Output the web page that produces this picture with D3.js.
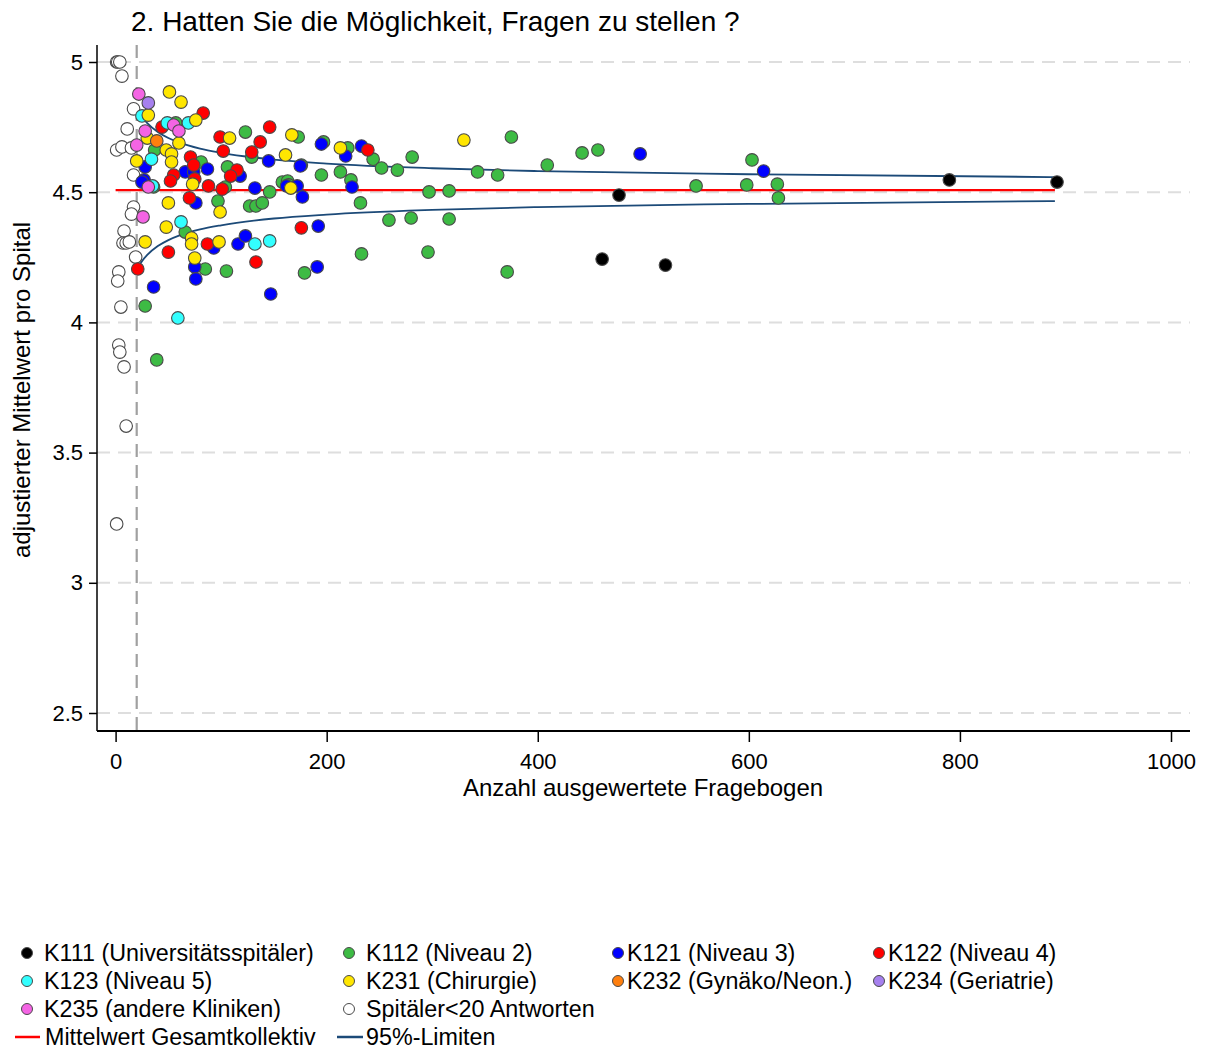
<!DOCTYPE html>
<html>
<head>
<meta charset="utf-8">
<script src="https://cdn.jsdelivr.net/npm/d3@7"></script>
<style>
  html, body { margin: 0; padding: 0; background: #fff; }
  svg { display: block; font-family: "Liberation Sans", Arial, sans-serif; }
</style>
</head>
<body>
<svg id="chart" width="1208" height="1049"></svg>
<script>
// Funnel plot: adjusted hospital mean vs. number of evaluated questionnaires
const title = "2. Hatten Sie die Möglichkeit, Fragen zu stellen ?";
const xTitle = "Anzahl ausgewertete Fragebogen";
const yTitle = "adjustierter Mittelwert pro Spital";
const xTicks = [0, 200, 400, 600, 800, 1000];
const yTicks = [2.5, 3, 3.5, 4, 4.5, 5];
const minAnswers = 20;
const overallMean = 4.508;

// [n, adjusted mean] per hospital group
const k111 = [[461, 4.243], [521, 4.220], [477, 4.489], [790, 4.547], [892, 4.539]];
const k112 = [[123, 4.731], [173, 4.712], [129, 4.635], [106, 4.597], [81, 4.616], [146, 4.501],
  [104, 4.520], [158, 4.539], [163, 4.543], [164, 4.528], [97, 4.466], [127, 4.447], [133, 4.447],
  [139, 4.459], [66, 4.347], [85, 4.205], [105, 4.197], [28, 4.063], [39, 3.856], [37, 4.662],
  [36, 4.520], [57, 4.766], [197, 4.693], [220, 4.670], [244, 4.627], [252, 4.593], [267, 4.585],
  [281, 4.635], [195, 4.566], [213, 4.578], [223, 4.547], [232, 4.459], [259, 4.393], [280, 4.401],
  [297, 4.501], [316, 4.505], [316, 4.397], [375, 4.712], [343, 4.578], [362, 4.566], [409, 4.604],
  [442, 4.651], [457, 4.662], [233, 4.263], [296, 4.270], [179, 4.190], [371, 4.194], [603, 4.624],
  [550, 4.524], [598, 4.528], [627, 4.531], [628, 4.478], [176, 4.604]];
const k121 = [[28, 4.597], [27, 4.547], [66, 4.578], [74, 4.578], [87, 4.589], [145, 4.620],
  [118, 4.562], [132, 4.516], [76, 4.459], [36, 4.136], [93, 4.286], [116, 4.301], [123, 4.332],
  [75, 4.213], [76, 4.167], [147, 4.109], [175, 4.601], [195, 4.685], [218, 4.639], [233, 4.677],
  [172, 4.524], [162, 4.524], [177, 4.482], [224, 4.520], [192, 4.370], [191, 4.213], [497, 4.647],
  [614, 4.581], [25, 4.539]];
const k122 = [[83, 4.804], [146, 4.750], [99, 4.712], [137, 4.693], [44, 4.750], [129, 4.654],
  [102, 4.658], [71, 4.635], [74, 4.604], [115, 4.585], [109, 4.562], [55, 4.566], [52, 4.543],
  [75, 4.551], [88, 4.524], [101, 4.512], [70, 4.478], [133, 4.232], [176, 4.363], [50, 4.270],
  [87, 4.301], [21, 4.205], [239, 4.662]];
const k123 = [[25, 4.793], [49, 4.766], [69, 4.766], [34, 4.627], [62, 4.386], [59, 4.017],
  [132, 4.301], [146, 4.313], [35, 4.524]];
const k231 = [[51, 4.885], [62, 4.846], [31, 4.796], [76, 4.777], [30, 4.708], [60, 4.689],
  [48, 4.662], [53, 4.647], [20, 4.620], [53, 4.616], [108, 4.708], [161, 4.643], [167, 4.720],
  [213, 4.670], [330, 4.700], [73, 4.531], [50, 4.459], [99, 4.424], [48, 4.366], [72, 4.324],
  [72, 4.301], [28, 4.309], [98, 4.309], [75, 4.247], [166, 4.516]];
const k232 = [[39, 4.697]];
const k234 = [[31, 4.843]];
const k235 = [[22, 4.877], [28, 4.735], [55, 4.758], [60, 4.735], [20, 4.681], [31, 4.520], [26, 4.405]];
const small = [[1, 5.0], [2, 5.0], [4, 5.0], [6, 4.946], [17, 4.820], [11, 4.743], [1, 4.662],
  [6, 4.674], [15, 4.670], [17, 4.566], [17, 4.443], [15, 4.416], [8, 4.351], [7, 4.305],
  [10, 4.305], [13, 4.309], [19, 4.251], [3, 4.194], [2, 4.159], [5, 4.059], [3, 3.913],
  [4, 3.886], [8, 3.829], [10, 3.602], [1, 3.226]];

// 95% control limits read along the funnel
const limitN = [20, 25, 30, 40, 50, 60, 80, 100, 150, 200, 300, 400, 600, 890];
const limitUpper = [4.822, 4.789, 4.765, 4.731, 4.708, 4.691, 4.667, 4.651, 4.625, 4.610, 4.592, 4.581, 4.569, 4.558];
const limitLower = [4.202, 4.235, 4.259, 4.293, 4.316, 4.333, 4.357, 4.373, 4.399, 4.414, 4.432, 4.443, 4.455, 4.466];
const meanRange = [0, 890];

const groups = [
  { name: "Spitäler<20 Antworten", data: small, color: "#ffffff" },
  { name: "K112 (Niveau 2)", data: k112, color: "#3dbb44" },
  { name: "K111 (Universitätsspitäler)", data: k111, color: "#000000" },
  { name: "K121 (Niveau 3)", data: k121, color: "#0000ff" },
  { name: "K122 (Niveau 4)", data: k122, color: "#ff0000" },
  { name: "K123 (Niveau 5)", data: k123, color: "#33ffff" },
  { name: "K231 (Chirurgie)", data: k231, color: "#ffe600" },
  { name: "K232 (Gynäko/Neon.)", data: k232, color: "#ff7f0e" },
  { name: "K234 (Geriatrie)", data: k234, color: "#a680ee" },
  { name: "K235 (andere Kliniken)", data: k235, color: "#f464e4" }
];
const colorOf = Object.fromEntries(groups.map(g => [g.name, g.color]));

const svg = d3.select("#chart");
const plot = { left: 97, right: 1190, top: 45, bottom: 731 };
const fontFamily = "'Liberation Sans', Arial, sans-serif";

const x = d3.scaleLinear().domain([0, 1000]).range([115.6, 1171]);
const y = d3.scaleLinear().domain([2.5, 5]).range([713, 62]);

// horizontal dashed grid
svg.append("g").selectAll("line").data(yTicks).join("line")
  .attr("x1", plot.left).attr("x2", plot.right)
  .attr("y1", d => y(d)).attr("y2", d => y(d))
  .attr("stroke", "#dedede").attr("stroke-width", 2)
  .attr("stroke-dasharray", "13,8");

// minimum-answers reference line
svg.append("line")
  .attr("x1", x(minAnswers)).attr("x2", x(minAnswers))
  .attr("y1", plot.top).attr("y2", plot.bottom)
  .attr("stroke", "#a0a0a0").attr("stroke-width", 2.2)
  .attr("stroke-dasharray", "13,8");

// axes
const yAxis = svg.append("g").attr("transform", `translate(${plot.left},0)`)
  .call(d3.axisLeft(y).tickValues(yTicks).tickFormat(d3.format("")).tickSize(8).tickSizeOuter(0));
yAxis.select(".domain").attr("d", `M0,${plot.top}V${plot.bottom}`).attr("stroke", "#000").attr("stroke-width", 1.5);
yAxis.selectAll(".tick line").attr("stroke", "#000").attr("stroke-width", 1.5);
yAxis.selectAll(".tick text").attr("font-size", 22).attr("fill", "#000").attr("x", -14)
  .style("font-family", fontFamily);

const xAxis = svg.append("g").attr("transform", `translate(0,${plot.bottom})`)
  .call(d3.axisBottom(x).tickValues(xTicks).tickFormat(d3.format("")).tickSize(11).tickSizeOuter(0));
xAxis.select(".domain").attr("d", `M${plot.left},0H${plot.right}`).attr("stroke", "#000").attr("stroke-width", 2);
xAxis.selectAll(".tick line").attr("stroke", "#000").attr("stroke-width", 1.5);
xAxis.selectAll(".tick text").attr("font-size", 22).attr("fill", "#000").attr("y", 22)
  .style("font-family", fontFamily);

// overall mean
svg.append("line")
  .attr("x1", x(meanRange[0])).attr("x2", x(meanRange[1]))
  .attr("y1", y(overallMean)).attr("y2", y(overallMean))
  .attr("stroke", "#ff0000").attr("stroke-width", 2.2);

// 95% limits
const limitLine = d3.line().x(d => x(d[0])).y(d => y(d[1])).curve(d3.curveMonotoneX);
[limitUpper, limitLower].forEach(vals => {
  svg.append("path")
    .attr("d", limitLine(limitN.map((n, i) => [n, vals[i]])))
    .attr("fill", "none").attr("stroke", "#1c4a78").attr("stroke-width", 1.8);
});

// hospitals
groups.forEach(g => {
  svg.append("g").selectAll("circle").data(g.data).join("circle")
    .attr("cx", d => x(d[0])).attr("cy", d => y(d[1])).attr("r", 6.3)
    .attr("fill", g.color).attr("stroke", "#4a4a4a").attr("stroke-width", 1.1);
});

// titles
svg.append("text").attr("x", 131).attr("y", 31).attr("font-size", 28).text(title);
svg.append("text").attr("x", 643).attr("y", 796).attr("text-anchor", "middle")
  .attr("font-size", 24).text(xTitle);
svg.append("text").attr("transform", "translate(30,390) rotate(-90)")
  .attr("text-anchor", "middle").attr("font-size", 24).text(yTitle);

// legend
const legendItems = [
  { name: "K111 (Universitätsspitäler)", col: 0, row: 0 },
  { name: "K112 (Niveau 2)", col: 1, row: 0 },
  { name: "K121 (Niveau 3)", col: 2, row: 0 },
  { name: "K122 (Niveau 4)", col: 3, row: 0 },
  { name: "K123 (Niveau 5)", col: 0, row: 1 },
  { name: "K231 (Chirurgie)", col: 1, row: 1 },
  { name: "K232 (Gynäko/Neon.)", col: 2, row: 1 },
  { name: "K234 (Geriatrie)", col: 3, row: 1 },
  { name: "K235 (andere Kliniken)", col: 0, row: 2 },
  { name: "Spitäler<20 Antworten", col: 1, row: 2 }
];
const colMarker = [27, 349, 618, 879];
const colText = [44, 366, 627, 888];
const rowY = [953, 981, 1009, 1037];
const legend = svg.append("g").attr("font-size", 23.3);
legendItems.forEach(it => {
  legend.append("circle").attr("cx", colMarker[it.col]).attr("cy", rowY[it.row]).attr("r", 5.5)
    .attr("fill", colorOf[it.name]).attr("stroke", "#4a4a4a").attr("stroke-width", 1);
  legend.append("text").attr("x", colText[it.col]).attr("y", rowY[it.row] + 8).text(it.name);
});
legend.append("line").attr("x1", 15).attr("x2", 40).attr("y1", rowY[3]).attr("y2", rowY[3])
  .attr("stroke", "#ff0000").attr("stroke-width", 2.5);
legend.append("text").attr("x", 45).attr("y", rowY[3] + 8).text("Mittelwert Gesamtkollektiv");
legend.append("line").attr("x1", 337).attr("x2", 363).attr("y1", rowY[3]).attr("y2", rowY[3])
  .attr("stroke", "#1c4a78").attr("stroke-width", 2.5);
legend.append("text").attr("x", 366).attr("y", rowY[3] + 8).text("95%-Limiten");
</script>
</body>
</html>
